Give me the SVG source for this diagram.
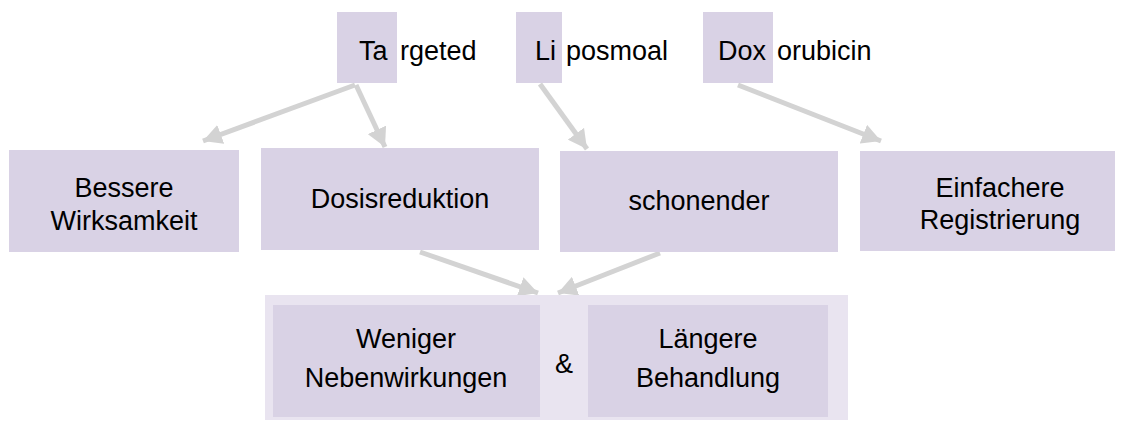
<svg xmlns="http://www.w3.org/2000/svg" width="1127" height="421" viewBox="0 0 1127 421">
  <defs>
    <style>
      .box { fill: #d9d2e5; }
      .outer { fill: #e9e4f0; }
      .t { font-family: "Liberation Sans", Arial, sans-serif; font-size: 27px; fill: #000; }
      .c { text-anchor: middle; }
      .conn { stroke: #d3d3d3; stroke-width: 5; fill: none; marker-end: url(#ah); }
    </style>
    <marker id="ah" markerUnits="userSpaceOnUse" markerWidth="20" markerHeight="20" refX="17" refY="9" orient="auto" viewBox="0 0 18 18">
      <path d="M0,0 L17,9 L0,18 z" fill="#d3d3d3"/>
    </marker>
  </defs>
  <rect width="1127" height="421" fill="#ffffff"/>

  <g id="connectors">
    <line class="conn" x1="355" y1="85" x2="203" y2="141"/>
    <line class="conn" x1="356" y1="85" x2="385" y2="147"/>
    <line class="conn" x1="540" y1="84" x2="587" y2="149"/>
    <line class="conn" x1="738" y1="85" x2="881" y2="141"/>
    <line class="conn" x1="420" y1="252" x2="538" y2="293"/>
    <line class="conn" x1="660" y1="253" x2="558" y2="293"/>
  </g>

  <g id="title-targeted">
    <rect class="box" x="337" y="12" width="60" height="71"/>
    <text class="t" x="359" y="60">Ta</text>
    <text class="t" x="400" y="60">rgeted</text>
  </g>
  <g id="title-liposomal">
    <rect class="box" x="516" y="12" width="46" height="71"/>
    <text class="t" x="535" y="60">Li</text>
    <text class="t" x="566" y="60">posmoal</text>
  </g>
  <g id="title-doxorubicin">
    <rect class="box" x="703" y="12" width="70" height="71"/>
    <text class="t" x="718" y="60">Dox</text>
    <text class="t" x="777" y="60">orubicin</text>
  </g>

  <g id="node-bessere">
    <rect class="box" x="9" y="150" width="230" height="102"/>
    <text class="t c" x="124" y="197">Bessere</text>
    <text class="t c" x="124" y="230">Wirksamkeit</text>
  </g>
  <g id="node-dosis">
    <rect class="box" x="261" y="148" width="278" height="102"/>
    <text class="t c" x="400" y="208">Dosisreduktion</text>
  </g>
  <g id="node-schonender">
    <rect class="box" x="560" y="151" width="278" height="101"/>
    <text class="t c" x="699" y="210">schonender</text>
  </g>
  <g id="node-einfachere">
    <rect class="box" x="860" y="151" width="255" height="100"/>
    <text class="t c" x="1000" y="197">Einfachere</text>
    <text class="t c" x="1000" y="229">Registrierung</text>
  </g>

  <g id="node-result">
    <rect class="outer" x="265" y="295" width="583" height="125"/>
    <g id="node-weniger">
      <rect class="box" x="273" y="305" width="267" height="112"/>
      <text class="t c" x="406" y="348">Weniger</text>
      <text class="t c" x="406" y="387">Nebenwirkungen</text>
    </g>
    <text class="t c" x="564" y="373">&amp;</text>
    <g id="node-laengere">
      <rect class="box" x="588" y="305" width="240" height="112"/>
      <text class="t c" x="708" y="348">Längere</text>
      <text class="t c" x="708" y="387">Behandlung</text>
    </g>
  </g>
</svg>
